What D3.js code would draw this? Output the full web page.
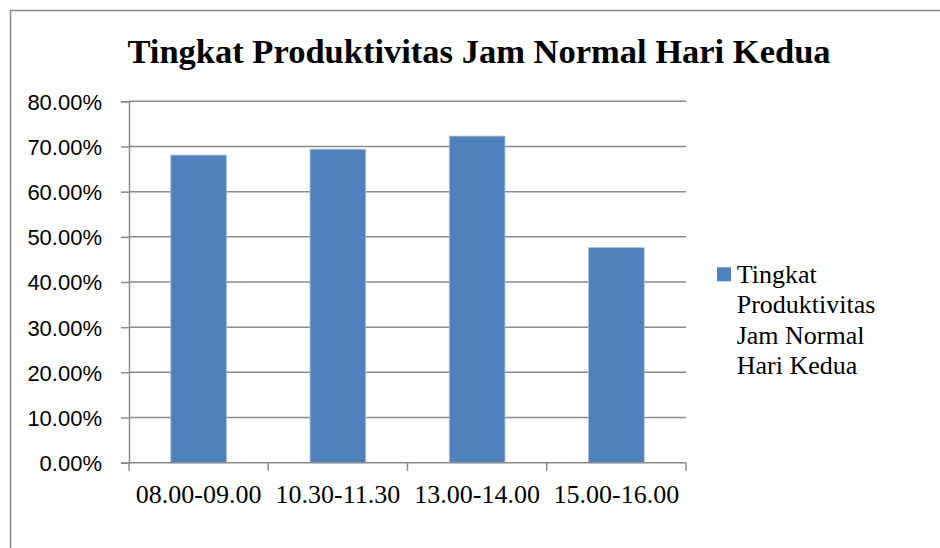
<!DOCTYPE html>
<html>
<head>
<meta charset="utf-8">
<script src="https://cdn.jsdelivr.net/npm/d3@7"></script>
<style>
  html, body { margin: 0; padding: 0; background: #fff; }
  svg { display: block; }
</style>
</head>
<body>
<svg id="chart" width="940" height="548"></svg>
<script>
// Chart content
const chartTitle = "Tingkat Produktivitas Jam Normal Hari Kedua";
const categories = ["08.00-09.00", "10.30-11.30", "13.00-14.00", "15.00-16.00"];
const values = [68.1, 69.4, 72.3, 47.6];           // percent
const yTicks = [0, 10, 20, 30, 40, 50, 60, 70, 80];
const legendLines = ["Tingkat", "Produktivitas", "Jam Normal", "Hari Kedua"];

const svg = d3.select("#chart");
const axisColor = "#8a8a8a";
const barColor = "#4f81bd";
const serif = "'Liberation Serif', 'Times New Roman', serif";

// Outer chart frame (right and bottom edges run past the viewport)
svg.append("rect")
  .attr("x", 10.5).attr("y", 10.5)
  .attr("width", 960).attr("height", 600)
  .attr("fill", "#fff")
  .attr("stroke", axisColor).attr("stroke-width", 1.5);

// Plot area
const plot = { left: 129, right: 686, top: 101.3, bottom: 462.7 };

const x = d3.scaleBand()
  .domain(categories)
  .range([plot.left, plot.right])
  .paddingInner(0.6)
  .paddingOuter(0.3);

const y = d3.scaleLinear()
  .domain([0, 80])
  .range([plot.bottom, plot.top]);

// Title
svg.append("text")
  .attr("x", 479).attr("y", 62.5)
  .attr("text-anchor", "middle")
  .style("font-family", serif)
  .attr("font-weight", "bold")
  .attr("font-size", 34.5)
  .attr("fill", "#000")
  .text(chartTitle);

// Horizontal gridlines
svg.append("g")
  .selectAll("line")
  .data(yTicks.filter(d => d > 0))
  .join("line")
  .attr("x1", plot.left).attr("x2", plot.right)
  .attr("y1", d => y(d)).attr("y2", d => y(d))
  .attr("stroke", axisColor).attr("stroke-width", 1.5);

// Y axis
const yAxis = svg.append("g")
  .attr("transform", `translate(${plot.left},0)`)
  .call(d3.axisLeft(y)
    .tickValues(yTicks)
    .tickSize(8)
    .tickPadding(19)
    .tickFormat(d => d.toFixed(2) + "%"));
yAxis.select(".domain").attr("stroke", axisColor).attr("stroke-width", 1.5);
yAxis.selectAll(".tick line").attr("stroke", axisColor).attr("stroke-width", 1.5);
yAxis.selectAll(".tick text")
  .style("font-family", "'Liberation Sans', Arial, sans-serif")
  .attr("font-size", 22)
  .attr("fill", "#000")
  .attr("dy", "0.36em");

// Bars
svg.append("g")
  .selectAll("rect")
  .data(values)
  .join("rect")
  .attr("x", (d, i) => x(categories[i]))
  .attr("y", d => y(d))
  .attr("width", x.bandwidth())
  .attr("height", d => y(0) - y(d))
  .attr("fill", barColor)
  .attr("stroke", "#a9c1df")
  .attr("stroke-width", 0.8);

// X axis with ticks at category boundaries
const boundaries = d3.range(categories.length + 1)
  .map(i => plot.left + i * x.step());
const xAxisG = svg.append("g");
xAxisG.append("line")
  .attr("x1", plot.left).attr("x2", plot.right)
  .attr("y1", plot.bottom).attr("y2", plot.bottom)
  .attr("stroke", axisColor).attr("stroke-width", 1.5);
xAxisG.selectAll("line.tk")
  .data(boundaries)
  .join("line")
  .attr("class", "tk")
  .attr("x1", d => d).attr("x2", d => d)
  .attr("y1", plot.bottom).attr("y2", plot.bottom + 8)
  .attr("stroke", axisColor).attr("stroke-width", 1.5);
xAxisG.selectAll("text")
  .data(categories)
  .join("text")
  .attr("x", d => x(d) + x.bandwidth() / 2)
  .attr("y", 503.3)
  .attr("text-anchor", "middle")
  .style("font-family", serif)
  .attr("font-size", 26)
  .attr("fill", "#000")
  .text(d => d);

// Legend
const legend = svg.append("g");
legend.append("rect")
  .attr("x", 717).attr("y", 267.3)
  .attr("width", 14).attr("height", 14)
  .attr("fill", barColor);
legend.append("text")
  .style("font-family", serif)
  .attr("font-size", 26)
  .attr("fill", "#000")
  .selectAll("tspan")
  .data(legendLines)
  .join("tspan")
  .attr("x", 736.7)
  .attr("y", (d, i) => 282.7 + i * 30.4)
  .text(d => d);
</script>
</body>
</html>
